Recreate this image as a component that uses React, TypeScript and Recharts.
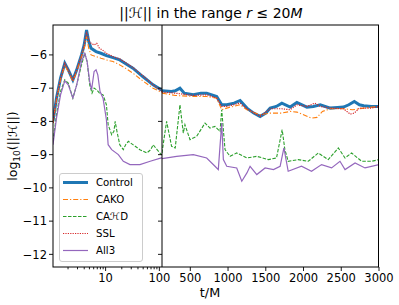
import { LineChart, Line, XAxis, YAxis } from "recharts";

// ─── data: [t/M, log10 ||H||] ───

const controlLeft = [
  [1.05, -8.0], [1.22, -7.3], [1.45, -6.7], [1.74, -6.25], [2.02, -6.45], [2.46, -6.75],
  [2.9, -6.45], [3.56, -6.0], [3.99, -5.7], [4.42, -5.25], [4.85, -5.6], [5.37, -5.8],
  [6.64, -5.9], [8.19, -5.95], [10.35, -6.02], [13.77, -6.08], [18.33, -6.15], [24.55, -6.28],
  [32.2, -6.4], [49.1, -6.65], [76.5, -6.9], [108.7, -7.05], [112, -7.06],
];
const cakoLeft = [
  [1.05, -8.05], [1.22, -7.35], [1.45, -6.75], [1.74, -6.3], [2.02, -6.5], [2.46, -6.8],
  [2.9, -6.5], [3.56, -6.05], [3.99, -5.8], [4.42, -5.45], [4.85, -5.8], [5.37, -6.0],
  [6.64, -6.05], [8.19, -6.1], [10.35, -6.15], [13.77, -6.2], [18.33, -6.3], [24.55, -6.42],
  [32.2, -6.55], [49.1, -6.78], [76.5, -7.0], [112, -7.13],
];
const cahdLeft = [
  [1.05, -8.6], [1.22, -7.8], [1.45, -7.1], [1.74, -6.75], [2.02, -6.85], [2.46, -7.3],
  [2.9, -6.9], [3.56, -6.3], [4.1, -5.95], [4.53, -6.2], [5.06, -6.9], [5.59, -7.15],
  [6.11, -7.0], [6.84, -7.05], [7.67, -7.15], [8.96, -7.2], [10.35, -7.5], [11.15, -8.1],
  [12.97, -8.4], [14.27, -8.3], [15.07, -8.0], [16.25, -8.3], [18.33, -8.7], [21.36, -8.85],
  [23.6, -8.7], [26.5, -8.6], [32.2, -8.7], [43.5, -8.85], [58.3, -8.95], [69.3, -8.85],
  [76.5, -8.7], [85.5, -8.8], [108.7, -9.0], [112, -8.97],
];
const sslLeft = [
  [1.05, -8.05], [1.22, -7.3], [1.45, -6.7], [1.74, -6.25], [2.02, -6.45], [2.46, -6.75],
  [2.9, -6.45], [3.56, -6.0], [3.99, -5.7], [4.42, -5.3], [4.85, -5.55], [5.37, -5.65],
  [6.11, -5.7], [6.84, -5.65], [7.67, -5.8], [8.71, -5.85], [10.35, -5.95], [13.77, -6.05],
  [18.33, -6.12], [24.55, -6.25], [32.2, -6.38], [49.1, -6.62], [76.5, -6.9], [112, -7.1],
];
const all3Left = [
  [1.05, -8.7], [1.22, -7.9], [1.45, -7.2], [1.74, -6.78], [2.02, -6.9], [2.46, -7.3],
  [2.9, -6.9], [3.56, -6.2], [4.1, -5.95], [4.53, -6.2], [5.06, -6.8], [5.48, -7.05],
  [6.11, -6.5], [6.64, -6.45], [7.16, -6.6], [7.88, -7.1], [8.96, -7.3], [10.35, -7.95],
  [11.15, -8.7], [12.97, -8.85], [17.25, -9.0], [21.36, -9.2], [28.4, -9.3], [43.5, -9.3],
  [67.5, -9.2], [108.7, -9.1], [112, -9.1],
];

const controlRight = [
  [125, -7.08], [250, -7.1], [300, -7.08], [363, -7.0], [420, -7.15], [540, -7.2],
  [640, -7.15], [717, -7.15], [850, -7.25], [916, -7.5], [983, -7.5], [1080, -7.45],
  [1160, -7.37], [1250, -7.6], [1340, -7.75], [1425, -7.85], [1500, -7.75], [1558, -7.6],
  [1640, -7.55], [1713, -7.45], [1823, -7.57], [1912, -7.43], [1980, -7.5], [2045, -7.57],
  [2130, -7.55], [2222, -7.5], [2355, -7.6], [2450, -7.58], [2530, -7.57], [2600, -7.5],
  [2673, -7.4], [2740, -7.5], [2797, -7.53], [2900, -7.55], [3000, -7.55],
];
const cakoRight = [
  [125, -7.15], [300, -7.22], [540, -7.25], [717, -7.25], [850, -7.3], [916, -7.65],
  [983, -7.6], [1160, -7.5], [1250, -7.65], [1425, -7.8], [1558, -7.75], [1713, -7.75],
  [1823, -7.7], [1912, -7.72], [2000, -7.8], [2100, -7.9], [2180, -7.88], [2250, -7.7],
  [2355, -7.62], [2530, -7.62], [2650, -7.65], [2800, -7.6], [3000, -7.55],
];
const cahdRight = [
  [125, -8.95], [150, -8.55], [186, -8.0], [252, -8.75], [300, -8.8], [363, -7.5],
  [407, -8.35], [429, -8.1], [496, -8.55], [584, -8.45], [695, -8.05], [761, -8.2],
  [827, -8.15], [894, -8.3], [916, -7.65], [960, -8.85], [1027, -9.05], [1115, -8.95],
  [1250, -9.1], [1381, -9.05], [1535, -9.15], [1642, -9.1], [1717, -8.25], [1753, -8.85],
  [1797, -9.2], [1930, -9.15], [2063, -9.2], [2195, -8.95], [2328, -9.15], [2461, -8.8],
  [2550, -9.1], [2637, -8.95], [2770, -9.2], [2903, -9.2], [3000, -9.15],
];
const sslRight = [
  [125, -7.12], [300, -7.15], [540, -7.22], [717, -7.2], [850, -7.3], [916, -7.55],
  [983, -7.55], [1160, -7.45], [1250, -7.62], [1425, -7.85], [1558, -7.62], [1713, -7.62],
  [1823, -7.65], [1912, -7.5], [2045, -7.55], [2150, -7.45], [2222, -7.55], [2355, -7.6],
  [2530, -7.62], [2620, -7.78], [2673, -7.75], [2740, -7.6], [2900, -7.6], [3000, -7.55],
];
const all3Right = [
  [125, -9.12], [319, -9.05], [540, -9.0], [717, -9.1], [827, -9.35], [871, -9.45],
  [916, -8.05], [938, -9.15], [983, -9.35], [1115, -9.4], [1182, -9.8], [1250, -9.55],
  [1292, -9.35], [1381, -9.6], [1491, -9.4], [1602, -9.45], [1690, -9.35], [1740, -8.8],
  [1797, -9.5], [1973, -9.35], [2106, -9.5], [2239, -9.3], [2372, -9.4], [2483, -9.2],
  [2550, -9.45], [2683, -9.25], [2815, -9.4], [3000, -9.3],
];

const leftMajor = [10, 100];
const leftTicks = [2, 3, 4, 5, 6, 7, 8, 9, 10, 20, 30, 40, 50, 60, 70, 80, 90, 100];
const rightTicks = [500, 1000, 1500, 2000, 2500, 3000];
const yTicks = [-6, -7, -8, -9, -10, -11, -12];

const Y_DOMAIN: [number, number] = [-12.38, -5.1];

type Pt = { t: number; v: number };
const pts = (a: number[][]): Pt[] => a.map(([t, v]) => ({ t, v }));

// ─── series styles ───

const series = [
  { name: "Control", color: "#1f77b4", width: 3, dash: undefined, left: controlLeft, right: controlRight },
  { name: "CAKO", color: "#ff7f0e", width: 1.1, dash: "5 2 1.2 2", left: cakoLeft, right: cakoRight },
  { name: "CAℋD", color: "#2ca02c", width: 1.1, dash: "3.5 1.5", left: cahdLeft, right: cahdRight },
  { name: "SSL", color: "#d62728", width: 1.2, dash: "1.2 1.2", left: sslLeft, right: sslRight },
  { name: "All3", color: "#9467bd", width: 1.2, dash: undefined, left: all3Left, right: all3Right },
];

const FONT = "DejaVu Sans, sans-serif";
const TICK_FS = 11.5;

// ─── ticks ───

function LogXTick(props: any) {
  const { x, y, payload } = props;
  const major = leftMajor.includes(payload.value);
  return (
    <g>
      <line x1={x} x2={x} y1={y} y2={y + (major ? 4 : 2.3)} stroke="#000" strokeWidth={0.9} />
      {major && (
        <text x={x} y={y + 15} textAnchor="middle" fontSize={TICK_FS} fill="#000">
          {payload.value}
        </text>
      )}
    </g>
  );
}

function LinXTick(props: any) {
  const { x, y, payload } = props;
  return (
    <g>
      <line x1={x} x2={x} y1={y} y2={y + 4} stroke="#000" strokeWidth={0.9} />
      <text x={x} y={y + 15} textAnchor="middle" fontSize={TICK_FS} fill="#000">
        {payload.value}
      </text>
    </g>
  );
}

function YTickLabelled(props: any) {
  const { x, y, payload } = props;
  return (
    <g>
      <line x1={x - 4} x2={x} y1={y} y2={y} stroke="#000" strokeWidth={0.9} />
      <text x={x - 6} y={y} dy="0.36em" textAnchor="end" fontSize={TICK_FS} fill="#000">
        {"\u2212" + Math.abs(payload.value)}
      </text>
    </g>
  );
}

function YTickBare(props: any) {
  const { x, y } = props;
  return <line x1={x - 4} x2={x} y1={y} y2={y} stroke="#000" strokeWidth={0.9} />;
}

// ─── legend ───

function LegendBox() {
  return (
    <svg width={399} height={305} style={{ position: "absolute", left: 0, top: 0 }}>
      <rect x={59.5} y={173.5} width={83} height={88} rx={2.5} fill="#fff" fillOpacity={0.85} stroke="#cccccc" />
      {series.map((s, i) => {
        const cy = 182.5 + i * 17;
        return (
          <g key={s.name}>
            <line x1={63} x2={88} y1={cy} y2={cy} stroke={s.color} strokeWidth={s.width} strokeDasharray={s.dash} />
            <text x={96} y={cy} dy="0.36em" fontSize={10.2} fill="#000">
              {s.name}
            </text>
          </g>
        );
      })}
    </svg>
  );
}

export default function App() {
  return (
    <div
      style={{
        position: "absolute",
        left: 0,
        top: 0,
        width: 399,
        height: 305,
        background: "#fff",
        fontFamily: FONT,
      }}
    >
      {/* left panel: log time axis */}
      <LineChart
        width={180}
        height={305}
        margin={{ top: 25, right: 18, bottom: 0, left: 0 }}
        style={{ position: "absolute", left: 0, top: 0 }}
      >
        <XAxis
          type="number"
          dataKey="t"
          scale="log"
          domain={[1.05, 112]}
          allowDataOverflow
          ticks={leftTicks}
          interval={0}
          tick={<LogXTick />}
          tickLine={false}
          axisLine={false}
          tickSize={0}
          tickMargin={0}
          height={38}
        />
        <YAxis
          type="number"
          domain={Y_DOMAIN}
          allowDataOverflow
          ticks={yTicks}
          interval={0}
          tick={<YTickLabelled />}
          tickLine={false}
          axisLine={false}
          tickSize={0}
          tickMargin={0}
          width={53}
        />
        {series.map((s) => (
          <Line
            key={s.name}
            data={pts(s.left)}
            dataKey="v"
            type="linear"
            stroke={s.color}
            strokeWidth={s.width}
            strokeDasharray={s.dash}
            dot={false}
            isAnimationActive={false}
          />
        ))}
      </LineChart>

      {/* right panel: linear time axis */}
      <LineChart
        width={250}
        height={305}
        margin={{ top: 25, right: 21, bottom: 0, left: 0 }}
        style={{ position: "absolute", left: 150, top: 0 }}
      >
        <XAxis
          type="number"
          dataKey="t"
          domain={[125, 3000]}
          allowDataOverflow
          ticks={rightTicks}
          interval={0}
          tick={<LinXTick />}
          tickLine={false}
          axisLine={false}
          tickSize={0}
          tickMargin={0}
          height={38}
        />
        <YAxis
          type="number"
          domain={Y_DOMAIN}
          allowDataOverflow
          ticks={yTicks}
          interval={0}
          tick={<YTickBare />}
          tickLine={false}
          axisLine={false}
          tickSize={0}
          tickMargin={0}
          width={12}
        />
        {series.map((s) => (
          <Line
            key={s.name}
            data={pts(s.right)}
            dataKey="v"
            type="linear"
            stroke={s.color}
            strokeWidth={s.width}
            strokeDasharray={s.dash}
            dot={false}
            isAnimationActive={false}
          />
        ))}
      </LineChart>

      {/* spines, title, axis labels */}
      <svg width={399} height={305} style={{ position: "absolute", left: 0, top: 0, pointerEvents: "none" }}>
        <rect x={53} y={25} width={325.5} height={242} fill="none" stroke="#000" strokeWidth={1} />
        <line x1={162} x2={162} y1={25} y2={267} stroke="#000" strokeWidth={1} />
        <text x={211} y={17.5} textAnchor="middle" fontSize={14} fill="#000">
          ||ℋ|| in the range <tspan fontStyle="italic">r</tspan> ≤ 20<tspan fontStyle="italic">M</tspan>
        </text>
        <text x={210} y={297} textAnchor="middle" fontSize={12.8} fill="#000">
          t/M
        </text>
        <text transform="translate(16.5,146) rotate(-90)" textAnchor="middle" fontSize={12.5} fill="#000">
          log<tspan fontSize={9} dy={3}>10</tspan>
          <tspan dy={-3}>(||ℋ||)</tspan>
        </text>
      </svg>

      <LegendBox />
    </div>
  );
}
